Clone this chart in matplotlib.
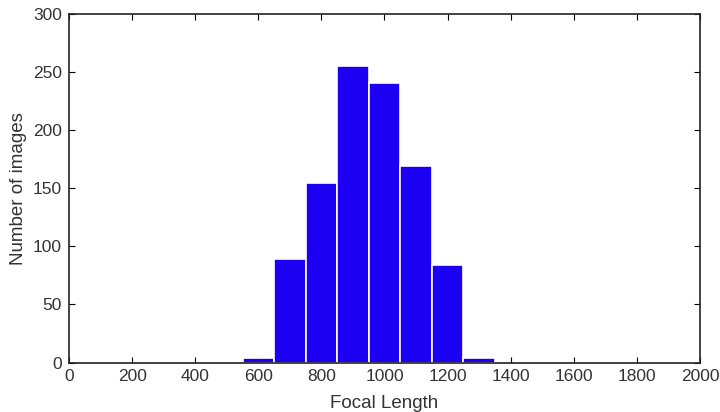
import matplotlib
matplotlib.use('Agg')
import matplotlib.pyplot as plt

# histogram data (bin centres and counts)
bin_centers = [600, 700, 800, 900, 1000, 1100, 1200, 1300]
counts      = [4, 89, 154, 255, 240, 169, 84, 4]
bin_width   = 100

x_ticks = [0, 200, 400, 600, 800, 1000, 1200, 1400, 1600, 1800, 2000]
y_ticks = [0, 50, 100, 150, 200, 250, 300]

plt.rcParams['font.family'] = ['Liberation Sans', 'DejaVu Sans']

fig = plt.figure(figsize=(7.2, 4.12), dpi=100)
ax = fig.add_axes([0.0958, 0.12, 0.8764, 0.847])

ax.bar(bin_centers, counts, width=bin_width, color='#1c00f2',
       edgecolor='white', linewidth=1.2, zorder=2)

ax.set_xlim(0, 2000)
ax.set_ylim(0, 300)
ax.set_xticks(x_ticks)
ax.set_yticks(y_ticks)
ax.tick_params(direction='in', length=4, width=0.8, top=True, right=True,
               labelsize=12.5, labelcolor='#333333')
ax.tick_params(axis='x', pad=4.5)
ax.tick_params(axis='y', pad=5)
for s in ax.spines.values():
    s.set_linewidth(1.2)
    s.set_color('#222222')

ax.set_xlabel('Focal Length', fontsize=13.5, color='#333333', labelpad=8)
ax.set_ylabel('Number of images', fontsize=13.5, color='#333333', labelpad=4)

fig.savefig('out.png', dpi=100)
